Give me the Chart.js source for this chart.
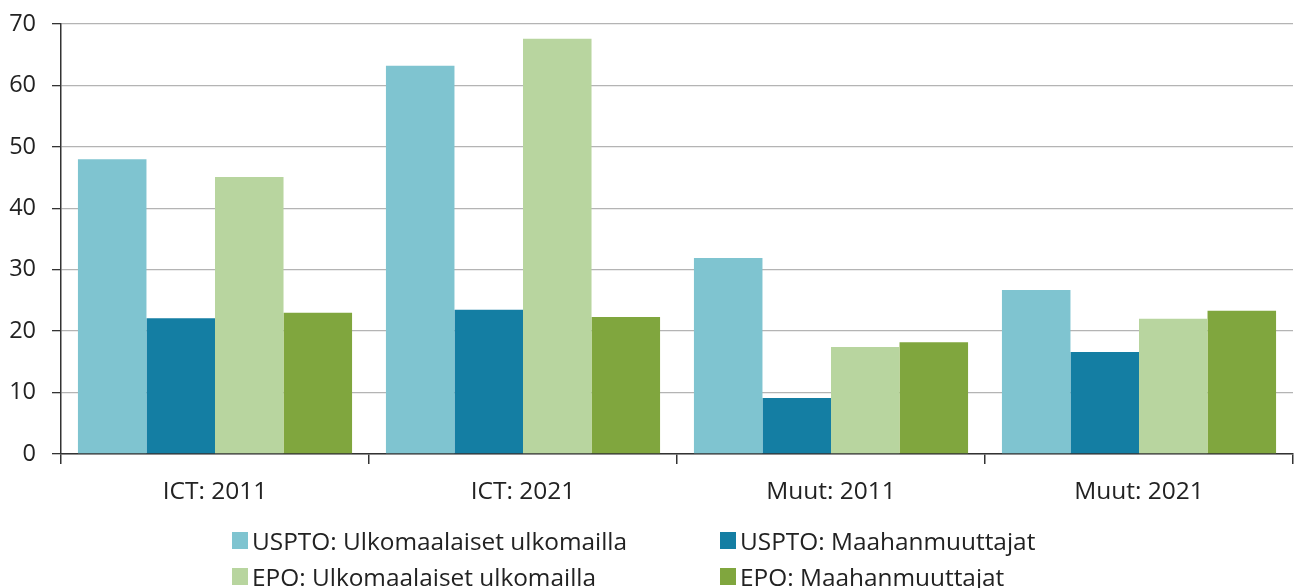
<!DOCTYPE html>
<html>
<head>
<meta charset="utf-8">
<script src="https://cdn.jsdelivr.net/npm/chart.js@4"></script>
<style>
  html, body { margin: 0; padding: 0; background: #fff; }
  #wrap { position: relative; width: 1294px; height: 588px; overflow: hidden; }
  #legend { position: absolute; left: 232px; top: 524px; display: grid;
            grid-template-columns: 488px 400px; row-gap: 4px;
            font-family: "Open Sans", sans-serif; font-size: 24.4px; color: #222; }
  .item { display: flex; align-items: center; white-space: nowrap; height: 32px; }
  .box { width: 16px; height: 17px; margin-right: 4px; flex: none; }
</style>
</head>
<body>
<div id="wrap">
  <canvas id="chart" width="1294" height="588"></canvas>
  <div id="legend"></div>
</div>
<script>
// categories and series
const categories = ["ICT: 2011", "ICT: 2021", "Muut: 2011", "Muut: 2021"];
const seriesNames = [
  "USPTO: Ulkomaalaiset ulkomailla",
  "USPTO: Maahanmuuttajat",
  "EPO: Ulkomaalaiset ulkomailla",
  "EPO: Maahanmuuttajat"
];
const usptoForeign = [48.0, 63.2, 31.9, 26.7];
const usptoImmigrant = [22.1, 23.5, 9.1, 16.6];
const epoForeign = [45.1, 67.6, 17.4, 22.0];
const epoImmigrant = [23.0, 22.3, 18.2, 23.3];
const colors = ["#7fc4d0", "#147ea3", "#b8d59f", "#80a63e"];

const values = [usptoForeign, usptoImmigrant, epoForeign, epoImmigrant];
const xFont = { family: "'Open Sans', sans-serif", size: 24.5 };
const yFont = { family: "'Open Sans', sans-serif", size: 23.5, lineHeight: 0.8 };

const ctx = document.getElementById("chart").getContext("2d");
new Chart(ctx, {
  type: "bar",
  data: {
    labels: categories,
    datasets: values.map((v, i) => ({
      label: seriesNames[i],
      data: v,
      backgroundColor: colors[i],
      borderWidth: 0
    }))
  },
  options: {
    responsive: false,
    animation: false,
    layout: { padding: { top: 24, right: 1, bottom: 74, left: 0 } },
    datasets: { bar: { categoryPercentage: 0.89, barPercentage: 1.0 } },
    plugins: { legend: { display: false }, tooltip: { enabled: false } },
    scales: {
      x: {
        grid: { offset: true, drawOnChartArea: false, drawTicks: true, tickLength: 10, color: "#333", lineWidth: 1.5 },
        border: { color: "#333", width: 1.5 },
        ticks: { font: xFont, color: "#222", padding: 13 },
        afterFit: s => { s.height = 60; }
      },
      y: {
        min: 0, max: 70,
        grid: { color: "#b4b4b4", lineWidth: 1.3, tickLength: 9, tickColor: "#333" },
        border: { color: "#333", width: 1.5 },
        ticks: { stepSize: 10, font: yFont, color: "#222", padding: 16 },
        afterFit: s => { s.width = 61; s.paddingTop = 0; s.paddingBottom = 0; }
      }
    }
  }
});

// legend in two columns
const legend = document.getElementById("legend");
seriesNames.forEach((name, i) => {
  const item = document.createElement("div");
  item.className = "item";
  const box = document.createElement("span");
  box.className = "box";
  box.style.background = colors[i];
  const txt = document.createElement("span");
  txt.textContent = name;
  item.appendChild(box);
  item.appendChild(txt);
  legend.appendChild(item);
});
</script>
</body>
</html>
